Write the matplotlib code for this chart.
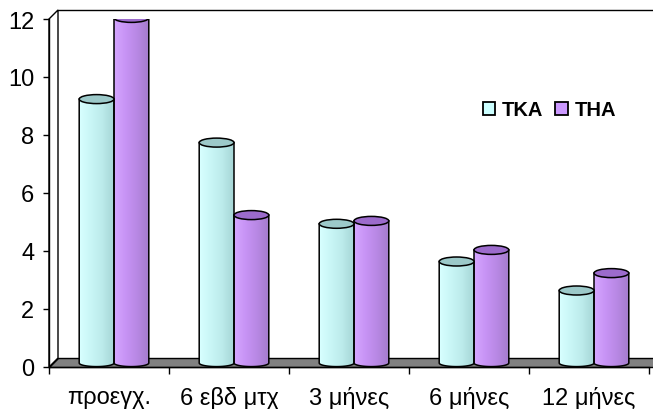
import numpy as np
import matplotlib
matplotlib.use("Agg")
import matplotlib.pyplot as plt
from matplotlib.patches import Polygon, PathPatch, Ellipse, Patch
from matplotlib.path import Path
from matplotlib.colors import LinearSegmentedColormap
import matplotlib.transforms as mtransforms

plt.rcParams['font.family'] = ['Liberation Sans', 'DejaVu Sans']

# Data
categories = ["προεγχ.", "6 εβδ μτχ", "3 μήνες", "6 μήνες", "12 μήνες"]
tka = [9.1, 7.6, 4.8, 3.5, 2.5]
tha = [11.9, 5.1, 4.9, 3.9, 3.1]
series_names = ["TKA", "THA"]
y_ticks = [0, 2, 4, 6, 8, 10, 12]

# Styling
body_stops = {
    "TKA": ["#d8ffff", "#c9f6f6", "#bcebeb", "#a6d6d6"],
    "THA": ["#d5a6ff", "#c793f5", "#b888e4", "#a47ccc"],
}
top_colors = {"TKA": "#9cc9c9", "THA": "#9c6bcc"}
legend_colors = {"TKA": "#ccffff", "THA": "#cc99ff"}

W, H, DPI = 653, 410, 100
fig = plt.figure(figsize=(W / DPI, H / DPI), dpi=DPI)
ax = fig.add_axes([49 / W, (H - 368) / H, 600 / W, 348 / H])

n = len(categories)
px_per_x = 600 / n
px_per_y = 348 / 12

# depth of the 3-D box (in data units) and offset for the mid-depth bars
dx = 9 / px_per_x
dy = 9 / px_per_y
bar_shift = mtransforms.ScaledTranslation(5 / DPI, 4 / DPI, fig.dpi_scale_trans)
bar_trans = ax.transData + bar_shift

lw = 1.0
# floor
floor = Polygon([(0, 0), (n + dx + 0.2, 0), (n + dx + 0.2, dy), (dx, dy)],
                closed=True, facecolor="#808080", edgecolor="black",
                linewidth=lw, clip_on=False, zorder=1)
ax.add_patch(floor)
# left wall
wall = Polygon([(0, 0), (dx, dy), (dx, 12 + dy), (0, 12)], closed=True,
               facecolor="white", edgecolor="black", linewidth=lw,
               clip_on=False, zorder=1)
ax.add_patch(wall)
# top edge of back wall
ax.plot([dx, n + 0.5], [12 + dy, 12 + dy], color="black", lw=lw,
        clip_on=False, zorder=1)

# bars
x = np.arange(n) + 0.5
bw = 0.29
ry = 4.5 / px_per_y
for name, vals, off in [("TKA", tka, -bw / 2), ("THA", tha, bw / 2)]:
    bars = ax.bar(x + off, vals, width=bw, color="none", edgecolor="none",
                  transform=bar_trans, zorder=2)
    cmap = LinearSegmentedColormap.from_list(name, body_stops[name])
    grad = np.linspace(0, 1, 64).reshape(1, -1)
    for rect in bars:
        x0 = rect.get_x()
        w = rect.get_width()
        v = rect.get_height()
        xc = x0 + w / 2
        t = np.linspace(np.pi, 2 * np.pi, 60)
        arc = np.column_stack([xc + (w / 2) * np.cos(t), ry * 0.8 * np.sin(t)])
        verts = np.vstack([[(x0, v), (x0, 0)], arc, [(x0 + w, v), (x0, v)]])
        codes = [Path.MOVETO] + [Path.LINETO] * (len(verts) - 2) + [Path.CLOSEPOLY]
        body = PathPatch(Path(verts, codes), facecolor="none", edgecolor="black",
                         linewidth=1.1, transform=bar_trans, zorder=3)
        img = ax.imshow(grad, cmap=cmap, aspect="auto", interpolation="bilinear",
                        extent=(x0, x0 + w, -ry, v), transform=bar_trans,
                        zorder=2.5)
        ax.add_patch(body)
        img.set_clip_path(body)
        top = Ellipse((xc, v), w, 2 * ry, facecolor=top_colors[name],
                      edgecolor="black", linewidth=1.1, transform=bar_trans,
                      zorder=4)
        ax.add_patch(top)

ax.set_xlim(0, n)
ax.set_ylim(0, 12)

# axes
for s in ["top", "right"]:
    ax.spines[s].set_visible(False)
ax.spines["left"].set_linewidth(lw)
ax.spines["bottom"].set_linewidth(lw)
ax.spines["left"].set_zorder(5)
ax.spines["bottom"].set_zorder(5)
ax.set_yticks(y_ticks)
ax.set_yticklabels([str(v) for v in y_ticks])
ax.tick_params(axis="y", direction="out", length=4, width=lw, pad=6.5,
               labelsize=17)
ax.set_xticks(np.arange(n + 1))
ax.set_xticklabels([])
ax.tick_params(axis="x", which="major", direction="out", length=5, width=lw)
ax.set_xticks(x, minor=True)
ax.set_xticklabels(categories, minor=True)
ax.tick_params(axis="x", which="minor", length=0, pad=13.5, labelsize=17)
ax.patch.set_visible(False)

handles = [Patch(facecolor=legend_colors[s], edgecolor="black", linewidth=1.3)
           for s in series_names]
leg = fig.legend(handles, series_names, loc="center",
                 bbox_to_anchor=(549.5 / W, (H - 111) / H), ncol=2, frameon=False,
                 handlelength=0.6, handleheight=0.6, handletextpad=0.35,
                 columnspacing=0.6, prop={"weight": "bold", "size": 14.5})

fig.savefig("out.png", dpi=DPI)
